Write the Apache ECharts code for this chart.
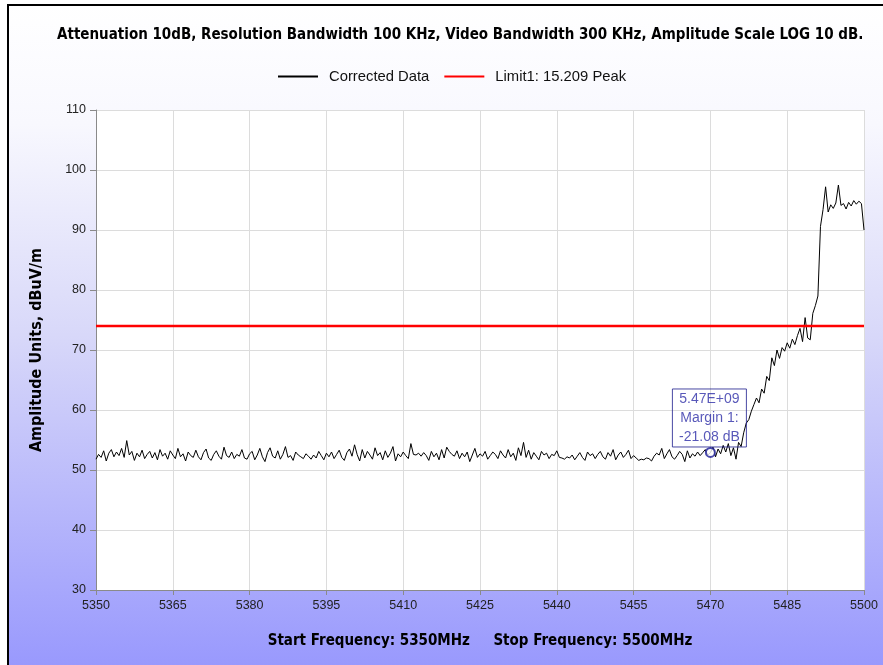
<!DOCTYPE html>
<html>
<head>
<meta charset="utf-8">
<script src="https://cdn.jsdelivr.net/npm/echarts@6/dist/echarts.min.js"></script>
<style>
html,body{margin:0;padding:0;background:#fff;}
#chart{width:883px;height:665px;}
</style>
</head>
<body>
<div id="chart"></div>
<script>
// ---- data ----
const titleText = 'Attenuation 10dB, Resolution Bandwidth 100 KHz, Video Bandwidth 300 KHz, Amplitude Scale LOG 10 dB.';
const startFreq = 5350;   // MHz
const stopFreq = 5500;    // MHz
const freqStep = 0.5;     // MHz between trace points
const xTickLabels = ['5350','5365','5380','5395','5410','5425','5440','5455','5470','5485','5500'];
const yTickLabels = ['30','40','50','60','70','80','90','100','110'];
const correctedData = [
  51.8, 52.6, 52.1, 53.2, 51.5, 52.8, 53.4, 52.2, 53.0, 52.4, 53.6, 52.1, 54.9, 52.5, 53.1, 51.6, 52.8, 52.2, 53.3, 51.9,
  52.6, 53.1, 52.0, 52.9, 51.7, 53.4, 52.3, 52.8, 51.8, 53.2, 52.5, 51.9, 53.6, 52.2, 52.7, 51.5, 53.0, 52.4, 52.1, 53.3,
  52.2, 51.7, 52.9, 53.5, 52.0, 51.6, 52.6, 53.2, 52.3, 51.8, 53.8, 52.4, 52.1, 53.0, 51.9, 52.6, 52.3, 53.4, 52.0, 51.8,
  52.7, 53.1, 51.7, 52.5, 53.6, 52.2, 51.4, 52.9, 53.7, 52.3, 52.0, 53.2, 51.8, 52.6, 53.9, 52.1, 52.4, 51.6, 53.0, 52.5,
  52.2, 51.9, 52.7, 52.3, 51.8, 52.5, 52.0, 53.1, 52.4, 51.7, 52.8, 52.2, 53.0, 51.9, 52.6, 53.3, 52.1, 51.6, 52.9, 53.5,
  52.3, 54.2, 52.6, 51.5, 53.4, 52.0, 53.1, 52.5, 51.8, 53.7, 52.4, 52.9, 51.7, 53.2, 52.1, 52.8, 53.9, 51.5, 52.7, 52.2,
  53.0, 52.4, 51.9, 54.4, 52.6, 52.5, 52.8, 52.3, 52.9, 52.4, 51.6, 53.1, 52.2, 52.8, 51.7, 53.4, 52.0, 53.8, 53.1, 52.6,
  52.3, 53.2, 51.9, 52.8, 52.2, 53.0, 51.4, 52.5, 53.6, 52.1, 52.7, 52.3, 53.1, 51.8, 52.4, 53.0, 52.6, 51.9, 53.2, 52.5,
  52.0, 53.4, 52.2, 52.8, 51.6, 53.7, 52.4, 54.6, 52.1, 53.3, 51.8, 52.9, 52.3, 51.7, 53.1, 52.5, 52.8, 51.9, 52.6, 52.4,
  53.2, 52.1, 52.0, 51.8, 52.2, 52.0, 52.5, 51.7, 52.3, 52.9, 52.1, 51.6, 53.0, 52.4, 52.7, 51.9, 52.6, 53.1, 52.2, 51.8,
  52.9, 52.3, 53.4, 51.7, 52.5, 53.0, 52.1, 52.6, 53.3, 51.9, 52.4, 52.0, 51.6, 51.8, 51.7, 52.0, 51.9, 51.5, 52.3, 52.8,
  52.5, 53.6, 51.9, 52.7, 53.4, 52.2, 51.8, 52.4, 53.1, 52.6, 51.4, 53.2, 52.0, 52.7, 52.3, 53.0, 52.4, 52.9, 53.4, 52.5,
  52.9, 53.8, 52.2, 53.5, 52.7, 54.1, 53.0, 54.4, 52.4, 53.7, 51.8, 54.6, 53.9, 56.2, 57.8, 58.4, 59.8, 60.9, 62.0, 61.2,
  63.5, 62.8, 65.6, 64.9, 68.7, 67.4, 70.0, 68.6, 70.4, 69.8, 71.2, 70.3, 71.8, 70.9, 72.4, 73.6, 71.4, 75.4, 72.0, 71.7,
  76.1, 77.4, 79.0, 90.6, 93.4, 97.2, 93.0, 94.2, 93.6, 94.5, 97.5, 94.1, 94.4, 93.5, 94.6, 94.0, 94.9, 94.3, 94.8, 94.4, 90.0
];
const limitValue = 74;            // Limit1: 15.209 Peak
const markerFreq = 5470;          // MHz
const markerValue = 52.92;
const markerLines = ['5.47E+09', 'Margin 1:', '-21.08 dB'];
const seriesNames = ['Corrected Data', 'Limit1: 15.209 Peak'];
const xAxisTitle = 'Start Frequency: 5350MHz     Stop Frequency: 5500MHz';
const yAxisTitle = 'Amplitude Units, dBuV/m';

// ---- chart ----
const chart = echarts.init(document.getElementById('chart'), null, {renderer: 'canvas'});
const span = stopFreq - startFreq;
const tickStep = span / (xTickLabels.length - 1);
const FONT = '"Liberation Sans", Arial, sans-serif';
const BOLD_FONT = '"DejaVu Sans Condensed", "DejaVu Sans", sans-serif';

const traceData = correctedData.map((v, i) => [i * freqStep, v]);

chart.setOption({
  backgroundColor: '#ffffff',
  animation: false,
  graphic: [
    {type: 'rect', z: -10, silent: true, shape: {x: 8, y: 5, width: 875, height: 660},
     style: {fill: new echarts.graphic.LinearGradient(0, 0, 0, 1, [
       {offset: 0, color: '#ffffff'},
       {offset: 0.18, color: '#f8f8fe'},
       {offset: 0.5, color: '#d8d8f9'},
       {offset: 1, color: '#9999fd'}
     ])}},
    {type: 'line', z: 10, silent: true, shape: {x1: 8, y1: 4, x2: 8, y2: 665}, style: {stroke: '#000', lineWidth: 2}},
    {type: 'line', z: 10, silent: true, shape: {x1: 7, y1: 5, x2: 883, y2: 5}, style: {stroke: '#000', lineWidth: 2}}
  ],
  title: {
    text: titleText,
    left: 52,
    top: 23,
    textStyle: {fontFamily: BOLD_FONT, fontSize: 15, fontWeight: 'bold', color: '#000'}
  },
  legend: {
    left: 272,
    top: 64,
    itemWidth: 40,
    itemHeight: 14,
    itemGap: 14,
    itemStyle: {opacity: 0},
    textStyle: {fontFamily: FONT, fontSize: 14.8, color: '#111', padding: [0, 0, 0, 6]},
    data: seriesNames
  },
  grid: {left: 96, right: 19, top: 110, bottom: 75, show: true, backgroundColor: '#ffffff', borderWidth: 0, containLabel: false},
  xAxis: {
    type: 'value',
    min: 0, max: span, interval: tickStep,
    name: xAxisTitle,
    nameLocation: 'middle',
    nameGap: 44,
    nameTextStyle: {fontFamily: BOLD_FONT, fontSize: 15, fontWeight: 'bold', color: '#000'},
    axisLine: {show: true, lineStyle: {color: '#8a8a8a', width: 1}},
    axisTick: {show: true, length: 5, lineStyle: {color: '#8a8a8a'}},
    axisLabel: {
      fontFamily: FONT, fontSize: 12.5, color: '#222', margin: 9,
      formatter: v => xTickLabels[Math.round(v / tickStep)]
    },
    splitLine: {show: true, lineStyle: {color: '#dcdcdc', width: 1}}
  },
  yAxis: {
    type: 'value',
    min: 30, max: 110, interval: 10,
    name: yAxisTitle,
    nameLocation: 'middle',
    nameGap: 51,
    nameTextStyle: {fontFamily: BOLD_FONT, fontSize: 16, fontWeight: 'bold', color: '#000'},
    axisLine: {show: true, lineStyle: {color: '#8a8a8a', width: 1}},
    axisTick: {show: true, length: 6, lineStyle: {color: '#8a8a8a'}},
    axisLabel: {
      fontFamily: FONT, fontSize: 12.5, color: '#222', margin: 10,
      formatter: v => yTickLabels[Math.round((v - 30) / 10)]
    },
    splitLine: {show: true, lineStyle: {color: '#dcdcdc', width: 1}}
  },
  series: [
    {
      name: seriesNames[0],
      type: 'line',
      data: traceData,
      symbol: 'none',
      lineStyle: {color: '#000000', width: 1},
      itemStyle: {color: '#000000'},
      z: 3
    },
    {
      name: seriesNames[1],
      type: 'line',
      data: [[0, limitValue], [span, limitValue]],
      symbol: 'none',
      lineStyle: {color: '#ff0000', width: 2.5},
      itemStyle: {color: '#ff0000'},
      z: 4
    },
    {
      name: 'marker',
      type: 'scatter',
      data: [[markerFreq - startFreq, markerValue]],
      symbol: 'emptyCircle',
      symbolSize: 9,
      itemStyle: {color: '#1c1c96', borderColor: '#1c1c96', borderWidth: 1.2},
      z: 5,
      label: {
        show: true,
        position: [4.5, -58],
        formatter: markerLines.join('\n'),
        fontFamily: FONT,
        fontSize: 14,
        lineHeight: 19,
        color: '#2e2ea8',
        align: 'center',
        width: 66,
        borderColor: '#1c1c8c',
        borderWidth: 1,
        padding: [1, 4, 0, 4]
      }
    }
  ]
});
</script>
</body>
</html>
